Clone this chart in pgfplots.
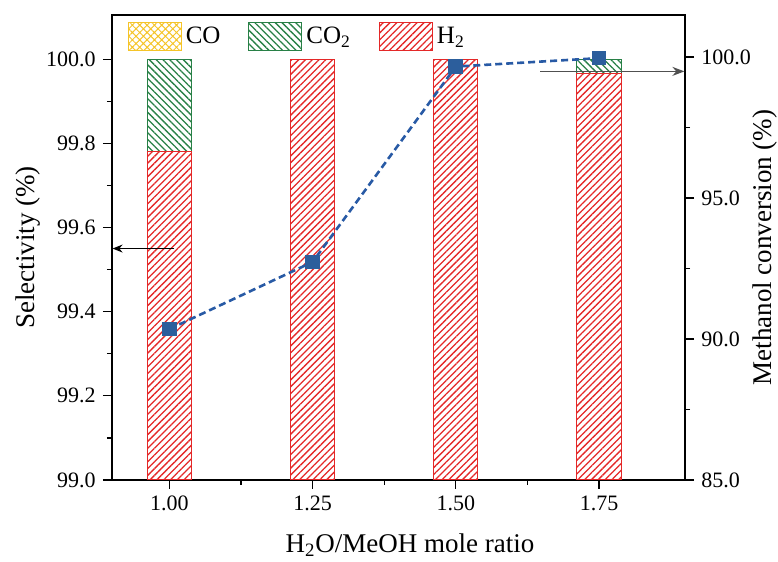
\documentclass[border=0pt]{standalone}
\usepackage{fontspec}
\setmainfont{Liberation Serif}
\usepackage{pgfplots}
\pgfplotsset{compat=1.18}
\usetikzlibrary{patterns.meta,arrows.meta}
\definecolor{hred}{RGB}{228,40,40}
\definecolor{cgreen}{RGB}{40,128,70}
\definecolor{coyel}{RGB}{245,196,40}
\definecolor{mblue}{RGB}{44,94,156}
\definecolor{lblue}{RGB}{40,90,165}
\definecolor{agrey}{RGB}{80,80,80}

\pgfplotstableread{
x    h2     co2
1.00 99.78  0.22
1.25 100.00 0.00
1.50 100.00 0.00
1.75 99.965 0.035
}\sel

\pgfplotstableread{
x    conv
1.00 90.35
1.25 92.73
1.50 99.66
1.75 99.96
}\conv

\begin{document}
\begin{tikzpicture}
\pgfplotsset{
  ybar legend/.style={legend image code/.code={\draw[##1] (0pt,-7pt) rectangle (26.5pt,7pt);}},
  every axis/.append style={
    font=\fontsize{11}{13}\selectfont,
    line width=0.6pt,
    every tick/.style={line width=0.6pt, black},
    major tick length=4.5pt, minor tick length=2.5pt,
    tick align=outside,
  },
}
\begin{axis}[
  scale only axis, width=286.5pt, height=232.5pt,
  xmin=0.9, xmax=1.9, ymin=99, ymax=100.105,
  xtick={1,1.25,1.5,1.75}, minor x tick num=1,
  ytick={99,99.2,99.4,99.6,99.8,100}, minor y tick num=1,
  xtick pos=bottom, ytick pos=left,
  xticklabel style={/pgf/number format/.cd, fixed, fixed zerofill, precision=2, assume math mode=true},
  yticklabel style={/pgf/number format/.cd, fixed, fixed zerofill, precision=1, assume math mode=true},
  xlabel={H\textsubscript{2}O/MeOH mole ratio},
  ylabel={Selectivity (\%)},
  label style={font=\fontsize{13.5}{15}\selectfont},
  ylabel style={at={(axis description cs:-0.147,0.5)}, anchor=center},
  xlabel style={at={(axis description cs:0.52,-0.14)}, anchor=center},
  ybar stacked, bar width=0.077,
  legend style={at={(axis description cs:0.016,0.994)}, anchor=north west,
    draw=none, fill=none, font=\fontsize{12.5}{14}\selectfont,
    /tikz/every even column/.append style={column sep=12pt}},
  legend columns=-1,
]
\addlegendimage{ybar legend, draw=coyel, line width=0.5pt, pattern={Hatch[angle=45,distance=2.6pt,line width=0.5pt]}, pattern color=coyel}
\addlegendentry{CO}
\addlegendimage{ybar legend, draw=cgreen, line width=0.5pt, pattern={Lines[angle=-45,distance=2.4pt,line width=0.65pt]}, pattern color=cgreen}
\addlegendentry{CO\textsubscript{2}}
\addlegendimage{ybar legend, draw=hred, line width=0.5pt, pattern={Lines[angle=45,distance=2.4pt,line width=0.65pt]}, pattern color=hred}
\addlegendentry{H\textsubscript{2}}
\addplot[forget plot, draw=hred, line width=0.5pt, pattern={Lines[angle=45,distance=2.4pt,line width=0.65pt]}, pattern color=hred] table[x=x, y=h2] {\sel};
\addplot[forget plot, draw=cgreen, line width=0.5pt, pattern={Lines[angle=-45,distance=2.4pt,line width=0.65pt]}, pattern color=cgreen] table[x=x, y=co2] {\sel};
\coordinate (la1) at (axis cs:1.009,99.55);
\coordinate (la2) at (axis cs:0.9,99.55);
\coordinate (ra1) at (axis cs:1.647,99.971);
\coordinate (ra2) at (axis cs:1.9,99.971);
\coordinate (sw) at (rel axis cs:0,0);
\coordinate (ne) at (rel axis cs:1,1);
\end{axis}
\begin{axis}[
  scale only axis, width=286.5pt, height=232.5pt,
  xmin=0.9, xmax=1.9, ymin=85, ymax=101.49,
  axis y line*=right, axis x line=none,
  ytick={85,90,95,100}, minor y tick num=1,
  yticklabel style={/pgf/number format/.cd, fixed, fixed zerofill, precision=1, assume math mode=true},
  ylabel={Methanol conversion (\%)},
  label style={font=\fontsize{13.5}{15}\selectfont},
  ylabel style={at={(axis description cs:1.14,0.5)}, anchor=center, rotate=0},
]
\addplot[draw=lblue, line width=1.3pt, dash pattern=on 3.5pt off 2pt, mark=square*, mark size=3pt, mark options={solid, fill=mblue, draw=mblue}] table[x=x, y=conv] {\conv};
\end{axis}
\draw[-{Stealth[length=5pt,width=4pt]}, line width=0.6pt, black] (la1) -- ([xshift=0.3pt]la2);
\draw[-{Stealth[length=6pt,width=4.5pt]}, line width=0.6pt, agrey] (ra1) -- ([xshift=-0.3pt]ra2);
\pgfresetboundingbox
\path ([shift={(-56pt,-41pt)}]sw) rectangle ([shift={(46.5pt,7.5pt)}]ne);
\end{tikzpicture}
\end{document}
